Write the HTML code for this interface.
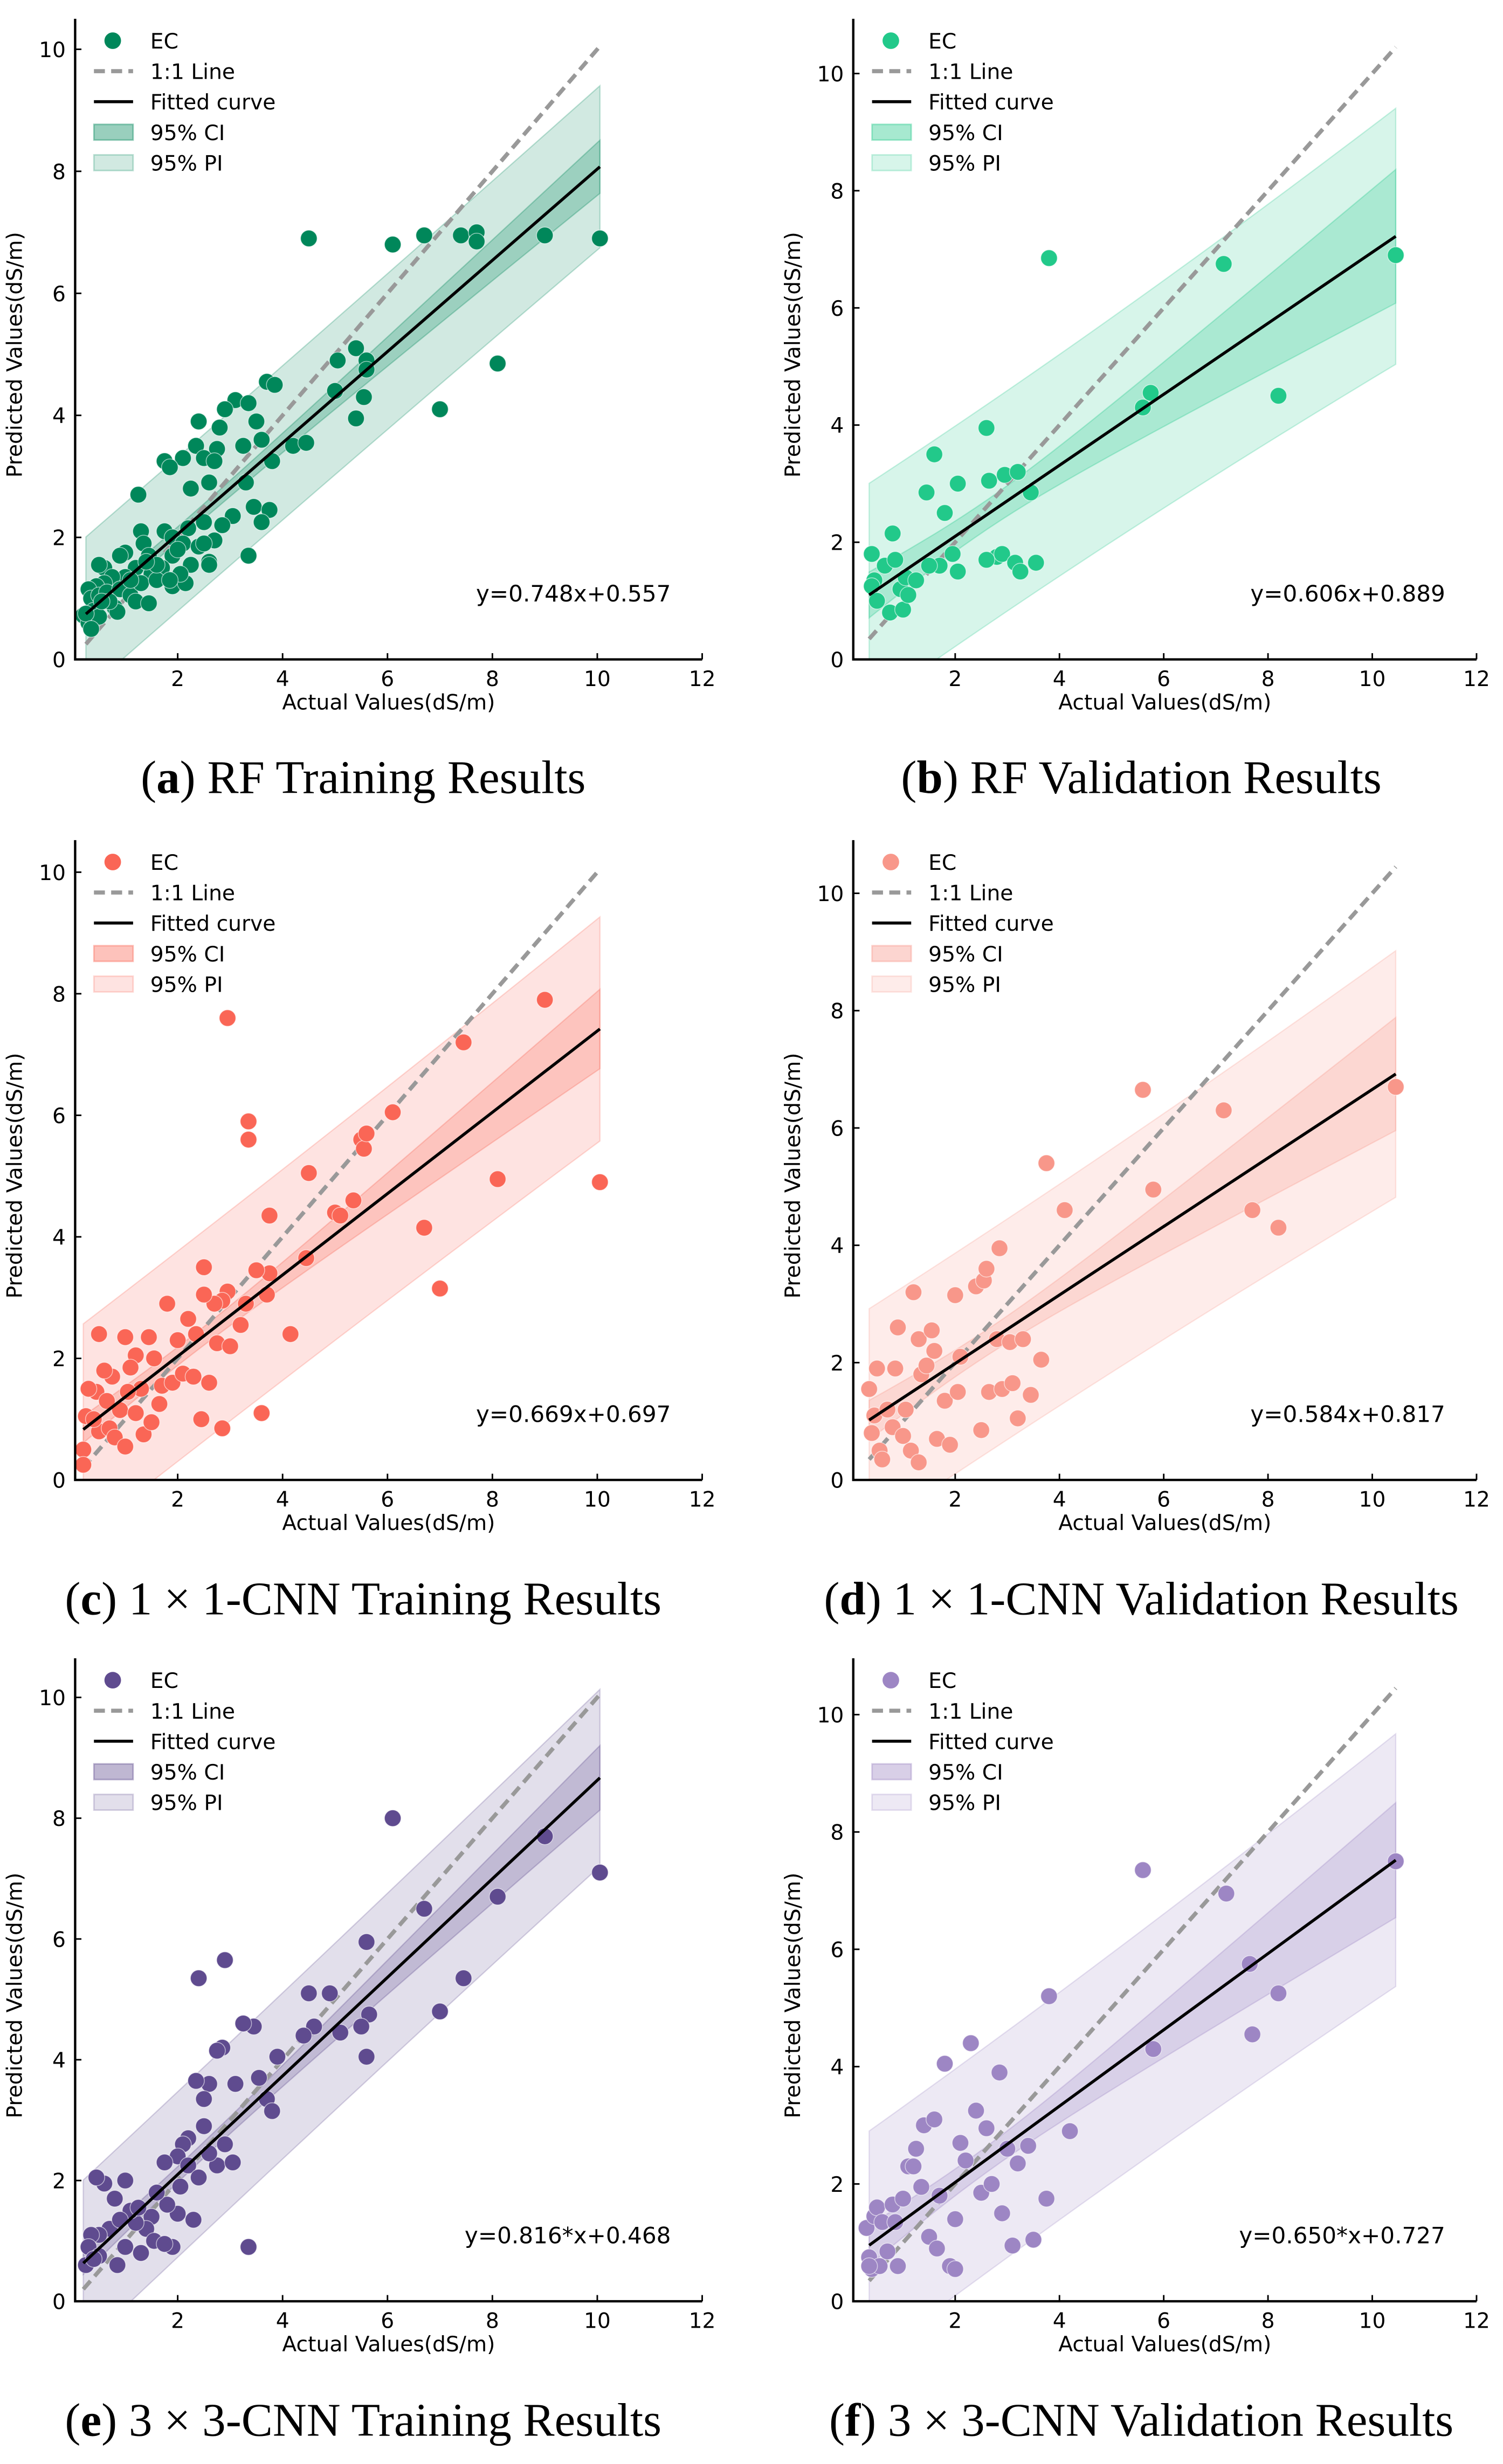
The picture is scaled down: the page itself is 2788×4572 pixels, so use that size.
<!DOCTYPE html>
<html><head><meta charset="utf-8"><style>
html,body{margin:0;padding:0;background:#fff;}
svg{display:block;}
text{font-family:"DejaVu Sans","Liberation Sans",sans-serif;}
.cap{font-family:"Liberation Serif","DejaVu Serif",serif;font-size:30px;}
</style></head><body>
<svg id="fig" width="2788" height="4572" viewBox="0 0 960 1575" preserveAspectRatio="none" xmlns="http://www.w3.org/2000/svg">
<defs></defs>
</svg>
<script>
// ---- data (Actual, Predicted) per panel ----
const aX=[4.5,6.1,6.7,7.4,7.7,7.7,9.0,10.05,8.1,7.0,5.4,5.05,5.6,5.6,5.0,5.55,5.4,3.7,3.85,3.1,3.35,2.9,2.4,2.8,3.5,3.6,2.35,2.75,3.25,2.5,2.1,1.75,1.85,2.7,3.8,4.2,4.45,2.6,2.25,3.3,1.25,3.45,3.75,3.05,3.6,3.35,2.5,2.85,2.2,1.3,1.75,1.9,2.1,2.7,2.4,1.35,1.45,1.0,0.9,0.6,0.5,1.9,2.0,2.25,2.6,1.7,1.5,1.2,1.0,0.75,0.6,0.45,0.3,0.35,0.5,0.65,0.9,1.1,1.2,1.45,0.8,0.85,0.4,0.2,0.3,0.4,0.5,0.7,1.3,1.6,1.9,2.15,2.05,1.85,1.6,0.55,0.25,0.35,1.1,2.5,2.6,1.4];
const aY=[6.9,6.8,6.95,6.95,7.0,6.85,6.95,6.9,4.85,4.1,5.1,4.9,4.9,4.75,4.4,4.3,3.95,4.55,4.5,4.25,4.2,4.1,3.9,3.8,3.9,3.6,3.5,3.45,3.5,3.3,3.3,3.25,3.15,3.25,3.25,3.5,3.55,2.9,2.8,2.9,2.7,2.5,2.45,2.35,2.25,1.7,2.25,2.2,2.15,2.1,2.1,2.0,1.9,1.95,1.85,1.9,1.7,1.75,1.7,1.5,1.55,1.7,1.8,1.55,1.6,1.5,1.4,1.5,1.35,1.35,1.25,1.2,1.15,1.0,1.05,1.1,1.15,1.05,0.95,0.92,0.85,0.78,0.8,0.72,0.6,0.65,0.7,0.95,1.25,1.3,1.2,1.25,1.4,1.3,1.55,0.95,0.75,0.5,1.3,1.9,1.55,1.6];
const bX=[0.4,0.45,0.4,0.5,0.65,0.75,0.85,0.8,0.95,1.0,1.05,1.1,1.25,1.45,1.6,1.7,1.8,1.95,2.05,2.05,2.6,2.65,2.8,2.9,2.95,3.15,3.25,3.2,3.45,3.55,3.8,5.6,5.75,7.15,8.2,10.45,1.5,2.6];
const bY=[1.8,1.35,1.25,1.0,1.6,0.8,1.7,2.15,1.2,0.85,1.4,1.1,1.35,2.85,3.5,1.6,2.5,1.8,3.0,1.5,3.95,3.05,1.75,1.8,3.15,1.65,1.5,3.2,2.85,1.65,6.85,4.3,4.55,6.75,4.5,6.9,1.6,1.7];
const cX=[2.95,3.35,3.35,7.45,9.0,10.05,8.1,7.0,6.7,6.1,5.5,5.55,5.6,5.35,4.5,5.0,5.1,4.45,3.75,4.15,3.75,3.7,3.6,3.5,3.3,3.2,2.95,2.85,2.7,2.5,2.5,2.35,2.2,2.85,2.45,2.6,2.0,1.8,1.45,1.55,1.0,0.5,1.7,1.9,1.3,1.05,0.9,0.75,0.6,0.45,0.3,0.25,0.2,0.2,0.5,0.7,0.8,1.2,1.35,1.5,1.65,2.1,2.3,1.2,0.4,1.0,2.75,3.0,1.1,0.65];
const cY=[7.6,5.9,5.6,7.2,7.9,4.9,4.95,3.15,4.15,6.05,5.6,5.45,5.7,4.6,5.05,4.4,4.35,3.65,4.35,2.4,3.4,3.05,1.1,3.45,2.9,2.55,3.1,2.95,2.9,3.5,3.05,2.4,2.65,0.85,1.0,1.6,2.3,2.9,2.35,2.0,2.35,2.4,1.55,1.6,1.5,1.45,1.15,1.7,1.8,1.45,1.5,1.05,0.5,0.25,0.8,0.85,0.7,1.1,0.75,0.95,1.25,1.75,1.7,2.05,1.0,0.55,2.25,2.2,1.85,1.3];
const dX=[0.35,0.4,0.45,0.5,0.55,0.6,0.7,0.8,0.85,0.9,1.0,1.05,1.15,1.2,1.3,1.35,1.45,1.55,1.6,1.65,1.8,1.9,2.0,2.05,2.1,2.4,2.5,2.55,2.6,2.65,2.8,2.85,2.9,3.05,3.1,3.2,3.3,3.45,3.65,3.75,4.1,5.6,5.8,7.15,7.7,8.2,10.45,1.3];
const dY=[1.55,0.8,1.1,1.9,0.5,0.35,1.2,0.9,1.9,2.6,0.75,1.2,0.5,3.2,2.4,1.8,1.95,2.55,2.2,0.7,1.35,0.6,3.15,1.5,2.1,3.3,0.85,3.4,3.6,1.5,2.4,3.95,1.55,2.35,1.65,1.05,2.4,1.45,2.05,5.4,4.6,6.65,4.95,6.3,4.6,4.3,6.7,0.3];
const eX=[6.1,9.0,10.05,8.1,7.45,7.0,6.7,5.6,5.65,5.5,5.6,5.1,4.9,4.6,4.4,4.5,3.9,3.7,3.8,3.55,3.45,3.25,2.9,2.4,3.35,3.1,2.85,2.75,2.6,2.5,2.35,2.2,2.1,2.0,2.2,2.5,2.75,3.05,2.9,2.3,2.0,1.9,1.8,1.6,1.5,1.4,1.2,1.1,1.0,0.8,0.6,0.45,0.7,0.5,0.35,0.25,0.3,0.5,0.85,1.0,1.3,1.55,1.75,1.25,2.4,2.6,0.9,0.4,1.75,2.05];
const eY=[8.0,7.7,7.1,6.7,5.35,4.8,6.5,5.95,4.75,4.55,4.05,4.45,5.1,4.55,4.4,5.1,4.05,3.35,3.15,3.7,4.55,4.6,5.65,5.35,0.9,3.6,4.2,4.15,3.6,3.35,3.65,2.7,2.6,2.4,2.25,2.9,2.25,2.3,2.6,1.35,1.45,0.9,1.6,1.8,1.4,1.2,1.3,1.5,2.0,1.7,1.95,2.05,1.2,1.1,1.1,0.6,0.9,0.75,0.6,0.9,0.8,1.0,0.95,1.55,2.05,2.45,1.35,0.7,2.3,1.9];
const fX=[0.3,0.35,0.4,0.45,0.5,0.55,0.6,0.7,0.8,0.85,0.9,1.0,1.1,1.2,1.25,1.35,1.4,1.5,1.6,1.65,1.7,1.8,1.9,2.0,2.1,2.2,2.3,2.4,2.5,2.6,2.7,2.85,2.9,3.0,3.1,3.2,3.4,3.5,3.75,3.8,4.2,5.6,5.8,7.2,7.65,7.7,8.2,10.45,0.35,2.0];
const fY=[1.25,0.75,0.55,1.45,1.6,0.6,1.35,0.85,1.65,1.35,0.6,1.75,2.3,2.3,2.6,1.95,3.0,1.1,3.1,0.9,1.8,4.05,0.6,1.4,2.7,2.4,4.4,3.25,1.85,2.95,2.0,3.9,1.5,2.6,0.95,2.35,2.65,1.05,1.75,5.2,2.9,7.35,4.3,6.95,5.75,4.55,5.25,7.5,0.6,0.55];
// fit: slope, intercept ; x-range of fitted line
const slopes=[0.748,0.606,0.669,0.584,0.816,0.650];
const intercepts=[0.557,0.889,0.697,0.817,0.468,0.727];
const fitMin=[0.25,0.35,0.2,0.35,0.2,0.35];
const fitMax=[10.05,10.45,10.05,10.45,10.05,10.45];
// band parameters: CI base, PI base, spread, mean x
const ciBase=[0.12,0.25,0.15,0.22,0.13,0.22];
const piBase=[1.26,1.88,1.73,1.88,1.37,1.93];
const spread=[0.052,0.14,0.081,0.118,0.066,0.12];
const meanX=[2.0,2.5,2.2,2.5,2.2,2.5];
const eqLabels=["y=0.748x+0.557","y=0.606x+0.889","y=0.669x+0.697","y=0.584x+0.817","y=0.816*x+0.468","y=0.650*x+0.727"];
const xTicks=[2,4,6,8,10,12];
const yTicks=[0,2,4,6,8,10];
const legendLabels=["EC","1:1 Line","Fitted curve","95% CI","95% PI"];
const capLetters=["a","b","c","d","e","f"];
const capTexts=[" RF Training Results"," RF Validation Results"," 1 × 1-CNN Training Results"," 1 × 1-CNN Validation Results"," 3 × 3-CNN Training Results"," 3 × 3-CNN Validation Results"];

const allX=[aX,bX,cX,dX,eX,fX], allY=[aY,bY,cY,dY,eY,fY];
const colors=["#00875a","#22c98a","#fa6656","#f8978a","#5f4b8f","#9d86c4"];
const geo=[
 {x0:46.5,sx:33.5,y0:421.5,sy:39.0,top:12,sp:48,cx:232,capY:507},
 {x0:543.5,sx:33.3,y0:421.5,sy:37.45,top:12,sp:545,cx:729,capY:507},
 {x0:46.5,sx:33.5,y0:946,sy:38.85,top:537,sp:48,cx:232,capY:1032},
 {x0:543.5,sx:33.3,y0:946,sy:37.5,top:537,sp:545,cx:729,capY:1032},
 {x0:46.5,sx:33.5,y0:1471,sy:38.6,top:1060,sp:48,cx:232,capY:1557},
 {x0:543.5,sx:33.3,y0:1471,sy:37.5,top:1060,sp:545,cx:729,capY:1557}];
const NS="http://www.w3.org/2000/svg";
const svg=document.getElementById('fig');
const defs=svg.querySelector('defs');
function mk(tag,attrs,parent){const e=document.createElementNS(NS,tag);for(const k in attrs)e.setAttribute(k,attrs[k]);parent.appendChild(e);return e;}

for(let p=0;p<6;p++){
 const g=geo[p], col=colors[p];
 const X=v=>g.x0+v*g.sx, Y=v=>g.y0-v*g.sy;
 const gp=mk('g',{},svg);
 
 
 const right=X(12);
 const cp=mk('clipPath',{id:'clip'+p},defs);
 mk('rect',{x:g.sp,y:g.top,width:right-g.sp,height:g.y0-g.top},cp);
 const plot=mk('g',{'clip-path':'url(#clip'+p+')'},gp);
 const a=slopes[p],b=intercepts[p];
 const band=(base)=>{const up=[],dn=[];const N=40;for(let i=0;i<=N;i++){const x=fitMin[p]+(fitMax[p]-fitMin[p])*i/N;const h=Math.sqrt(base*base+Math.pow(spread[p]*(x-meanX[p]),2));up.push(X(x).toFixed(2)+','+Y(a*x+b+h).toFixed(2));dn.unshift(X(x).toFixed(2)+','+Y(a*x+b-h).toFixed(2));}return up.concat(dn).join(' ');};
 const pi=mk('polygon',{points:band(piBase[p]),fill:col,'fill-opacity':0.18,stroke:col,'stroke-opacity':0.25,'stroke-width':0.8},plot);
 
 
 const ci=mk('polygon',{points:band(ciBase[p]),fill:col,'fill-opacity':0.25,stroke:col,'stroke-opacity':0.3,'stroke-width':0.8},plot);
 
 
 const l11=mk('line',{x1:X(fitMin[p]),y1:Y(fitMin[p]),x2:X(fitMax[p]),y2:Y(fitMax[p]),stroke:'#999','stroke-width':2.6,'stroke-dasharray':'7,4'},plot);
 
 
 for(let i=0;i<allX[p].length;i++){
  const c=mk('circle',{cx:X(allX[p][i]),cy:Y(allY[p][i]),r:5.3,fill:col,stroke:'#fff','stroke-width':0.5,'stroke-opacity':0.6},plot);
  
  
 }
 const fl=mk('line',{x1:X(fitMin[p]),y1:Y(a*fitMin[p]+b),x2:X(fitMax[p]),y2:Y(a*fitMax[p]+b),stroke:'#000','stroke-width':1.9},plot);
 
 
 const ax=mk('path',{d:`M${g.sp},${g.top} V${g.y0} H${right}`,fill:'none',stroke:'#000','stroke-width':1.5},gp);
 
 
 for(const t of xTicks){
  mk('line',{x1:X(t),x2:X(t),y1:g.y0,y2:g.y0-4,stroke:'#000','stroke-width':1},gp);
  const tx=mk('text',{x:X(t),y:g.y0+17,'text-anchor':'middle','font-size':13.5},gp);tx.textContent=t;
  
  
 }
 for(const t of yTicks){
  mk('line',{x1:g.sp,x2:g.sp+4,y1:Y(t),y2:Y(t),stroke:'#000','stroke-width':1},gp);
  const ty=mk('text',{x:g.sp-6,y:Y(t)+5,'text-anchor':'end','font-size':13.5},gp);ty.textContent=t;
  
  
 }
 const xl=mk('text',{x:(g.sp+right)/2,y:g.y0+32,'text-anchor':'middle','font-size':13.5},gp);xl.textContent='Actual Values(dS/m)';
 
 
 const ymid=(g.top+g.y0)/2+10;
 const yl=mk('text',{x:g.sp-34,y:ymid,'text-anchor':'middle','font-size':13.5,transform:`rotate(-90 ${g.sp-34} ${ymid})`},gp);yl.textContent='Predicted Values(dS/m)';
 
 
 const eq=mk('text',{x:right-20,y:Y(0)-37,'text-anchor':'end','font-size':14.5},gp);eq.textContent=eqLabels[p];
 
 
 const lg=mk('g',{},gp);
 
 
 const lx=g.sp+12, ly0=g.top+14;
 for(let i=0;i<5;i++){
  const yy=ly0+i*19.5;
  if(i===0) mk('circle',{cx:lx+12,cy:yy,r:5.3,fill:col},lg);
  if(i===1) mk('line',{x1:lx,x2:lx+25,y1:yy,y2:yy,stroke:'#999','stroke-width':2.6,'stroke-dasharray':'7,4'},lg);
  if(i===2) mk('line',{x1:lx,x2:lx+25,y1:yy,y2:yy,stroke:'#000','stroke-width':1.9},lg);
  if(i===3) mk('rect',{x:lx,y:yy-5,width:25,height:10,fill:col,'fill-opacity':0.4,stroke:col,'stroke-opacity':0.4},lg);
  if(i===4) mk('rect',{x:lx,y:yy-5,width:25,height:10,fill:col,'fill-opacity':0.18,stroke:col,'stroke-opacity':0.25},lg);
  const lt=mk('text',{x:lx+36,y:yy+5,'font-size':13.5},lg);lt.textContent=legendLabels[i];
  
  
 }
 const cap=mk('text',{x:g.cx,y:g.capY,'text-anchor':'middle',class:'cap'},gp);
 
 
 const t1=mk('tspan',{},cap);t1.textContent='(';
 const t2=mk('tspan',{'font-weight':'bold'},cap);t2.textContent=capLetters[p];
 const t3=mk('tspan',{},cap);t3.textContent=')'+capTexts[p];
}
</script>
</body></html>
